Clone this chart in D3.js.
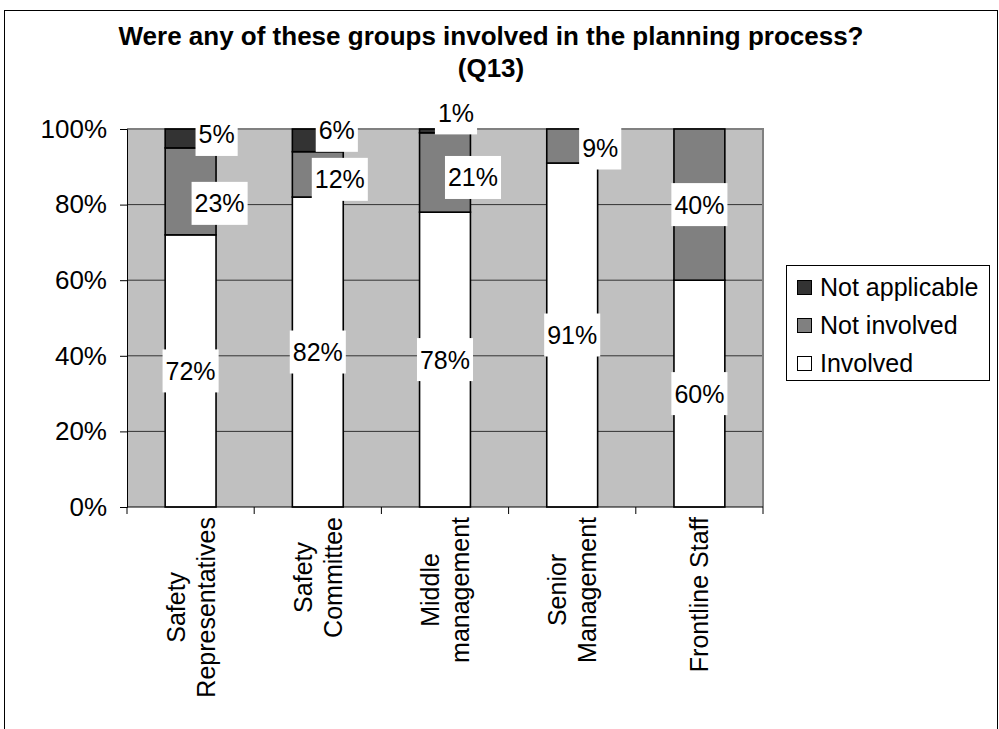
<!DOCTYPE html>
<html>
<head>
<meta charset="utf-8">
<script src="https://cdn.jsdelivr.net/npm/d3@7"></script>
<style>
  html, body { margin: 0; padding: 0; background: #fff; }
  svg text { font-family: "Liberation Sans", Arial, sans-serif; }
</style>
</head>
<body>
<svg id="chart" width="999" height="729"></svg>
<script>
// Survey answers, percent of respondents per group
const categories = [
  ["Safety", "Representatives"],
  ["Safety", "Committee"],
  ["Middle", "management"],
  ["Senior", "Management"],
  ["Frontline Staff"]
];
const seriesNames = ["Involved", "Not involved", "Not applicable"];
const involved      = [72, 82, 78, 91, 60];
const notInvolved   = [23, 12, 21, 9, 40];
const notApplicable = [5, 6, 1, 0, 0];
const yTicks = [0, 20, 40, 60, 80, 100];
const titleLines = ["Were any of these groups involved in the planning process?", "(Q13)"];

// Label nudges (px) for small segments so the value boxes don't collide
const labelNudge = {
  "0-2": [26, -4], "0-1": [29, 12],
  "1-2": [19, -10], "1-1": [22, 5],
  "2-2": [11, -18], "2-1": [28, 5],
  "3-1": [28, 2]
};

const colors = ["#ffffff", "#808080", "#333333"];
const fontSize = 25;

const svg = d3.select("#chart");
const plot = { left: 127, right: 763, top: 129, bottom: 507 };

// Outer chart frame
svg.append("rect")
  .attr("x", 4.5).attr("y", 10.5)
  .attr("width", 993).attr("height", 740)
  .attr("fill", "#fff").attr("stroke", "#000").attr("stroke-width", 1);

// Title
svg.append("g").selectAll("text").data(titleLines).join("text")
  .attr("x", 491).attr("y", (d, i) => 45 + i * 32)
  .attr("text-anchor", "middle")
  .attr("font-size", 26).attr("font-weight", "bold")
  .text(d => d);

const keys = categories.map((c, i) => i);
const x = d3.scaleBand().domain(keys).range([plot.left, plot.right]).paddingInner(0.6).paddingOuter(0.3);
const xOuter = d3.scaleBand().domain(keys).range([plot.left, plot.right]);
const y = d3.scaleLinear().domain([0, 100]).range([plot.bottom, plot.top]);

// Plot background
svg.append("rect")
  .attr("x", plot.left).attr("y", plot.top)
  .attr("width", plot.right - plot.left).attr("height", plot.bottom - plot.top)
  .attr("fill", "#c0c0c0");

// Gridlines
svg.append("g").selectAll("line").data(yTicks.filter(t => t > 0 && t < 100)).join("line")
  .attr("x1", plot.left).attr("x2", plot.right)
  .attr("y1", d => y(d)).attr("y2", d => y(d))
  .attr("stroke", "#333").attr("stroke-width", 1);

// Plot border (top and right)
svg.append("path")
  .attr("d", `M${plot.left},${plot.top}H${plot.right}V${plot.bottom}`)
  .attr("fill", "none").attr("stroke", "#808080").attr("stroke-width", 2);

// Stacked data
const table = keys.map(i => ({
  key: i,
  "Involved": involved[i],
  "Not involved": notInvolved[i],
  "Not applicable": notApplicable[i]
}));
const stack = d3.stack().keys(seriesNames)(table);

const barG = svg.append("g");
stack.forEach((layer, si) => {
  barG.append("g").selectAll("rect").data(layer.filter(d => d[1] - d[0] > 0)).join("rect")
    .attr("x", d => x(d.data.key))
    .attr("width", x.bandwidth())
    .attr("y", d => y(d[1]))
    .attr("height", d => y(d[0]) - y(d[1]))
    .attr("fill", colors[si])
    .attr("stroke", "#000").attr("stroke-width", 1.6);
});

// Y axis
const yAxis = d3.axisLeft(y).tickValues(yTicks).tickFormat(d => d + "%").tickSize(7).tickPadding(13);
const yg = svg.append("g").attr("transform", `translate(${plot.left},0)`).call(yAxis);
yg.select(".domain").attr("stroke", "#000");
yg.selectAll(".tick line").attr("stroke", "#000");
yg.selectAll(".tick text").attr("font-size", 26).attr("fill", "#000")
  .attr("font-family", "Liberation Sans, Arial, sans-serif");

// X axis line with ticks between categories
const xg = svg.append("g");
xg.append("line").attr("x1", plot.left).attr("x2", plot.right)
  .attr("y1", plot.bottom).attr("y2", plot.bottom).attr("stroke", "#000");
const boundaries = keys.map(k => xOuter(k)).concat([plot.right]);
xg.selectAll("line.tk").data(boundaries).join("line").attr("class", "tk")
  .attr("x1", d => d).attr("x2", d => d)
  .attr("y1", plot.bottom).attr("y2", plot.bottom + 7).attr("stroke", "#000");

// Rotated category labels: block starts below the axis, lines centred within it
const lineH = 30;
categories.forEach((lines, i) => {
  const g = svg.append("g")
    .attr("transform", `translate(${x(i) + x.bandwidth() / 2},${plot.bottom + 10}) rotate(-90)`);
  const t = g.selectAll("text").data(lines).join("text")
    .attr("font-size", fontSize)
    .attr("text-anchor", "middle")
    .attr("dominant-baseline", "central")
    .attr("y", (d, j) => (j - (lines.length - 1) / 2) * lineH)
    .text(d => d);
  const maxW = d3.max(t.nodes(), n => n.getComputedTextLength());
  t.attr("x", -maxW / 2);
});

// Value labels on white boxes
const labelG = svg.append("g");
stack.forEach((layer, si) => {
  layer.forEach(d => {
    const v = d[1] - d[0];
    if (v <= 0) return;
    const nudge = labelNudge[`${d.data.key}-${si}`] || [0, 0];
    const cx = x(d.data.key) + x.bandwidth() / 2 + nudge[0];
    const cy = y((d[0] + d[1]) / 2) + nudge[1];
    const g = labelG.append("g");
    const txt = g.append("text")
      .attr("x", cx).attr("y", cy)
      .attr("text-anchor", "middle").attr("dominant-baseline", "central")
      .attr("font-size", fontSize)
      .text(v + "%");
    const w = txt.node().getComputedTextLength() + 6;
    g.insert("rect", "text")
      .attr("x", cx - w / 2).attr("y", cy - 21.5)
      .attr("width", w).attr("height", 43)
      .attr("fill", "#fff");
  });
});

// Legend (top to bottom: reverse stacking order)
const legend = svg.append("g");
legend.append("rect")
  .attr("x", 786.5).attr("y", 265.5).attr("width", 203).attr("height", 115)
  .attr("fill", "#fff").attr("stroke", "#000").attr("stroke-width", 1);
const legendItems = seriesNames.map((n, i) => ({ name: n, color: colors[i] })).reverse();
const li = legend.selectAll("g").data(legendItems).join("g")
  .attr("transform", (d, i) => `translate(797,${287 + i * 38})`);
li.append("rect").attr("x", 0.5).attr("y", -6.5).attr("width", 14).attr("height", 14)
  .attr("fill", d => d.color).attr("stroke", "#000").attr("stroke-width", 1);
li.append("text").attr("x", 23).attr("y", 0)
  .attr("dominant-baseline", "central").attr("font-size", fontSize)
  .text(d => d.name);
</script>
</body>
</html>
